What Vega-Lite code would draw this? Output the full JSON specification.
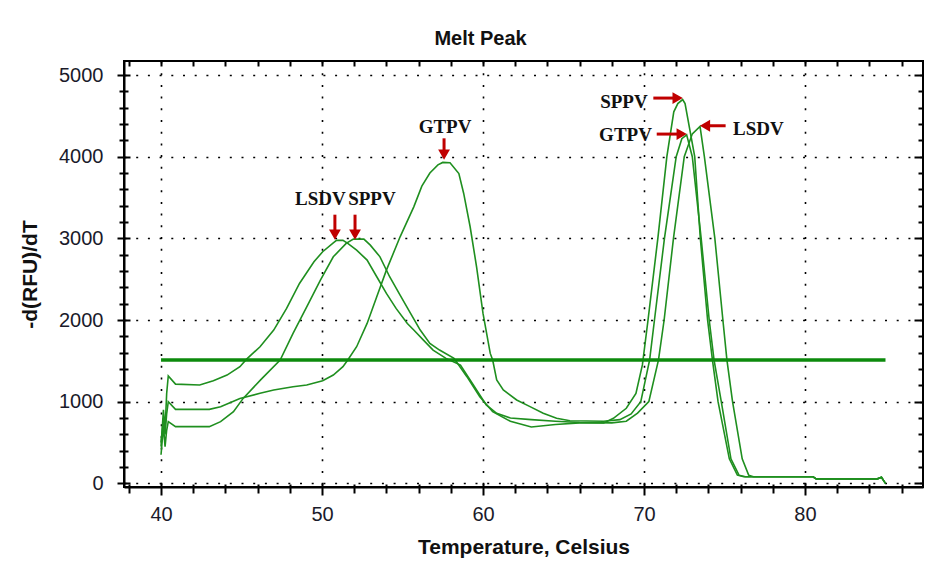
{
  "$schema": "https://vega.github.io/schema/vega-lite/v6.json",
  "width": 799,
  "height": 426,
  "autosize": "none",
  "padding": {"left": 124, "top": 61, "right": 18, "bottom": 83},
  "background": "white",
  "title": {"text": "Melt Peak", "font": "Liberation Sans", "fontSize": 20, "fontWeight": "bold", "color": "#111", "dx": -43, "offset": 11},
  "config": {
    "view": {"stroke": "black", "strokeWidth": 2},
    "axis": {"labelFont": "Liberation Sans", "labelFontSize": 20, "labelColor": "#1a1a2a", "titleFont": "Liberation Sans", "titleFontWeight": "bold", "titleFontSize": 21, "titleColor": "#111", "tickColor": "black", "tickWidth": 2, "domainColor": "black", "domainWidth": 2, "gridColor": "black", "gridDash": [2, 9.7], "gridWidth": 1.6, "labelOverlap": false}
  },
  "datasets": {
    "curves": [
      {"s": "LSDV", "t": 40.0, "v": 450}, {"s": "LSDV", "t": 40.15, "v": 900}, {"s": "LSDV", "t": 40.25, "v": 650}, {"s": "LSDV", "t": 40.35, "v": 1100}, {"s": "LSDV", "t": 40.45, "v": 1315}, {"s": "LSDV", "t": 40.9, "v": 1215}, {"s": "LSDV", "t": 42.4, "v": 1204}, {"s": "LSDV", "t": 43.25, "v": 1257}, {"s": "LSDV", "t": 44.1, "v": 1326}, {"s": "LSDV", "t": 44.9, "v": 1428}, {"s": "LSDV", "t": 45.3, "v": 1518}, {"s": "LSDV", "t": 46.15, "v": 1673}, {"s": "LSDV", "t": 47.0, "v": 1877}, {"s": "LSDV", "t": 47.8, "v": 2142}, {"s": "LSDV", "t": 48.6, "v": 2448}, {"s": "LSDV", "t": 49.5, "v": 2713}, {"s": "LSDV", "t": 50.04, "v": 2836}, {"s": "LSDV", "t": 50.7, "v": 2946}, {"s": "LSDV", "t": 50.9, "v": 2975}, {"s": "LSDV", "t": 51.3, "v": 2975}, {"s": "LSDV", "t": 51.6, "v": 2938}, {"s": "LSDV", "t": 52.15, "v": 2856}, {"s": "LSDV", "t": 52.8, "v": 2734}, {"s": "LSDV", "t": 53.4, "v": 2530}, {"s": "LSDV", "t": 54.0, "v": 2326}, {"s": "LSDV", "t": 54.6, "v": 2142}, {"s": "LSDV", "t": 55.3, "v": 1958}, {"s": "LSDV", "t": 55.7, "v": 1877}, {"s": "LSDV", "t": 56.3, "v": 1754}, {"s": "LSDV", "t": 56.9, "v": 1632}, {"s": "LSDV", "t": 57.7, "v": 1530}, {"s": "LSDV", "t": 58.6, "v": 1448}, {"s": "LSDV", "t": 59.4, "v": 1204}, {"s": "LSDV", "t": 60.2, "v": 960}, {"s": "LSDV", "t": 60.85, "v": 858}, {"s": "LSDV", "t": 61.7, "v": 800}, {"s": "LSDV", "t": 63.0, "v": 780}, {"s": "LSDV", "t": 64.5, "v": 760}, {"s": "LSDV", "t": 66.0, "v": 745}, {"s": "LSDV", "t": 68.0, "v": 740}, {"s": "LSDV", "t": 68.9, "v": 760}, {"s": "LSDV", "t": 69.6, "v": 860}, {"s": "LSDV", "t": 70.3, "v": 1000}, {"s": "LSDV", "t": 70.9, "v": 1511}, {"s": "LSDV", "t": 71.25, "v": 2000}, {"s": "LSDV", "t": 71.83, "v": 3000}, {"s": "LSDV", "t": 72.5, "v": 4000}, {"s": "LSDV", "t": 73.0, "v": 4280}, {"s": "LSDV", "t": 73.48, "v": 4370}, {"s": "LSDV", "t": 73.75, "v": 4000}, {"s": "LSDV", "t": 74.4, "v": 3000}, {"s": "LSDV", "t": 74.9, "v": 2000}, {"s": "LSDV", "t": 75.15, "v": 1511}, {"s": "LSDV", "t": 75.5, "v": 1000}, {"s": "LSDV", "t": 76.1, "v": 300}, {"s": "LSDV", "t": 76.5, "v": 100}, {"s": "LSDV", "t": 76.8, "v": 80}, {"s": "LSDV", "t": 80.5, "v": 80}, {"s": "LSDV", "t": 80.7, "v": 55}, {"s": "LSDV", "t": 84.5, "v": 55}, {"s": "LSDV", "t": 84.75, "v": 75}, {"s": "LSDV", "t": 85.0, "v": 0},
      {"s": "SPPV", "t": 40.0, "v": 350}, {"s": "SPPV", "t": 40.15, "v": 700}, {"s": "SPPV", "t": 40.25, "v": 450}, {"s": "SPPV", "t": 40.35, "v": 650}, {"s": "SPPV", "t": 40.45, "v": 755}, {"s": "SPPV", "t": 40.9, "v": 694}, {"s": "SPPV", "t": 43.0, "v": 694}, {"s": "SPPV", "t": 43.7, "v": 755}, {"s": "SPPV", "t": 44.5, "v": 877}, {"s": "SPPV", "t": 45.1, "v": 1040}, {"s": "SPPV", "t": 46.2, "v": 1270}, {"s": "SPPV", "t": 47.4, "v": 1510}, {"s": "SPPV", "t": 48.2, "v": 1836}, {"s": "SPPV", "t": 49.05, "v": 2162}, {"s": "SPPV", "t": 49.9, "v": 2489}, {"s": "SPPV", "t": 50.7, "v": 2774}, {"s": "SPPV", "t": 51.5, "v": 2938}, {"s": "SPPV", "t": 51.95, "v": 2990}, {"s": "SPPV", "t": 52.6, "v": 2990}, {"s": "SPPV", "t": 53.0, "v": 2917}, {"s": "SPPV", "t": 53.6, "v": 2774}, {"s": "SPPV", "t": 54.2, "v": 2530}, {"s": "SPPV", "t": 54.85, "v": 2305}, {"s": "SPPV", "t": 55.5, "v": 2081}, {"s": "SPPV", "t": 56.1, "v": 1877}, {"s": "SPPV", "t": 56.7, "v": 1714}, {"s": "SPPV", "t": 57.3, "v": 1632}, {"s": "SPPV", "t": 58.2, "v": 1530}, {"s": "SPPV", "t": 59.0, "v": 1306}, {"s": "SPPV", "t": 59.8, "v": 1061}, {"s": "SPPV", "t": 60.6, "v": 877}, {"s": "SPPV", "t": 61.7, "v": 760}, {"s": "SPPV", "t": 63.0, "v": 690}, {"s": "SPPV", "t": 64.5, "v": 720}, {"s": "SPPV", "t": 66.0, "v": 740}, {"s": "SPPV", "t": 67.5, "v": 740}, {"s": "SPPV", "t": 68.1, "v": 796}, {"s": "SPPV", "t": 68.9, "v": 919}, {"s": "SPPV", "t": 69.5, "v": 1100}, {"s": "SPPV", "t": 69.9, "v": 1450}, {"s": "SPPV", "t": 70.25, "v": 2000}, {"s": "SPPV", "t": 70.86, "v": 3000}, {"s": "SPPV", "t": 71.42, "v": 4000}, {"s": "SPPV", "t": 71.85, "v": 4550}, {"s": "SPPV", "t": 72.1, "v": 4650}, {"s": "SPPV", "t": 72.4, "v": 4700}, {"s": "SPPV", "t": 72.55, "v": 4650}, {"s": "SPPV", "t": 73.15, "v": 4000}, {"s": "SPPV", "t": 73.5, "v": 3000}, {"s": "SPPV", "t": 73.95, "v": 2000}, {"s": "SPPV", "t": 74.25, "v": 1511}, {"s": "SPPV", "t": 74.6, "v": 1000}, {"s": "SPPV", "t": 75.3, "v": 300}, {"s": "SPPV", "t": 75.8, "v": 100}, {"s": "SPPV", "t": 76.2, "v": 80}, {"s": "SPPV", "t": 80.5, "v": 80}, {"s": "SPPV", "t": 80.7, "v": 55}, {"s": "SPPV", "t": 84.5, "v": 55}, {"s": "SPPV", "t": 84.75, "v": 75}, {"s": "SPPV", "t": 85.0, "v": 0},
      {"s": "GTPV", "t": 40.0, "v": 500}, {"s": "GTPV", "t": 40.15, "v": 800}, {"s": "GTPV", "t": 40.25, "v": 600}, {"s": "GTPV", "t": 40.35, "v": 850}, {"s": "GTPV", "t": 40.45, "v": 1000}, {"s": "GTPV", "t": 40.9, "v": 906}, {"s": "GTPV", "t": 43.0, "v": 906}, {"s": "GTPV", "t": 43.7, "v": 938}, {"s": "GTPV", "t": 44.9, "v": 1040}, {"s": "GTPV", "t": 46.15, "v": 1102}, {"s": "GTPV", "t": 47.0, "v": 1142}, {"s": "GTPV", "t": 48.2, "v": 1183}, {"s": "GTPV", "t": 49.05, "v": 1204}, {"s": "GTPV", "t": 50.04, "v": 1257}, {"s": "GTPV", "t": 50.7, "v": 1326}, {"s": "GTPV", "t": 51.3, "v": 1428}, {"s": "GTPV", "t": 51.6, "v": 1510}, {"s": "GTPV", "t": 52.15, "v": 1673}, {"s": "GTPV", "t": 52.8, "v": 1958}, {"s": "GTPV", "t": 53.4, "v": 2285}, {"s": "GTPV", "t": 54.0, "v": 2611}, {"s": "GTPV", "t": 54.85, "v": 3019}, {"s": "GTPV", "t": 55.7, "v": 3386}, {"s": "GTPV", "t": 56.2, "v": 3640}, {"s": "GTPV", "t": 56.7, "v": 3800}, {"s": "GTPV", "t": 57.2, "v": 3900}, {"s": "GTPV", "t": 57.5, "v": 3930}, {"s": "GTPV", "t": 57.95, "v": 3925}, {"s": "GTPV", "t": 58.5, "v": 3794}, {"s": "GTPV", "t": 58.8, "v": 3550}, {"s": "GTPV", "t": 59.2, "v": 3142}, {"s": "GTPV", "t": 59.6, "v": 2652}, {"s": "GTPV", "t": 60.0, "v": 2081}, {"s": "GTPV", "t": 60.45, "v": 1591}, {"s": "GTPV", "t": 60.6, "v": 1510}, {"s": "GTPV", "t": 60.85, "v": 1266}, {"s": "GTPV", "t": 61.26, "v": 1143}, {"s": "GTPV", "t": 62.09, "v": 1021}, {"s": "GTPV", "t": 62.92, "v": 939}, {"s": "GTPV", "t": 63.74, "v": 858}, {"s": "GTPV", "t": 64.57, "v": 796}, {"s": "GTPV", "t": 65.4, "v": 767}, {"s": "GTPV", "t": 67.5, "v": 760}, {"s": "GTPV", "t": 68.5, "v": 780}, {"s": "GTPV", "t": 69.2, "v": 850}, {"s": "GTPV", "t": 69.8, "v": 1000}, {"s": "GTPV", "t": 70.35, "v": 1511}, {"s": "GTPV", "t": 70.65, "v": 2000}, {"s": "GTPV", "t": 71.27, "v": 3000}, {"s": "GTPV", "t": 72.0, "v": 4000}, {"s": "GTPV", "t": 72.35, "v": 4220}, {"s": "GTPV", "t": 72.65, "v": 4268}, {"s": "GTPV", "t": 73.0, "v": 4000}, {"s": "GTPV", "t": 73.55, "v": 3000}, {"s": "GTPV", "t": 74.05, "v": 2000}, {"s": "GTPV", "t": 74.35, "v": 1511}, {"s": "GTPV", "t": 74.8, "v": 1000}, {"s": "GTPV", "t": 75.4, "v": 300}, {"s": "GTPV", "t": 75.9, "v": 100}, {"s": "GTPV", "t": 76.3, "v": 80}, {"s": "GTPV", "t": 80.5, "v": 80}, {"s": "GTPV", "t": 80.7, "v": 55}, {"s": "GTPV", "t": 84.5, "v": 55}, {"s": "GTPV", "t": 84.75, "v": 75}, {"s": "GTPV", "t": 85.0, "v": 0}
    ],
    "threshold": [{"t0": 40, "t1": 85, "v": 1510}],
    "labels": [
      {"label": "LSDV", "t": 49.9, "v": 3488},
      {"label": "SPPV", "t": 53.1, "v": 3488},
      {"label": "GTPV", "t": 57.64, "v": 4366},
      {"label": "SPPV", "t": 68.75, "v": 4672},
      {"label": "GTPV", "t": 68.85, "v": 4264},
      {"label": "LSDV", "t": 77.1, "v": 4345}
    ],
    "arrows": [
      {"dir": "down", "t": 50.8, "v": 3290, "t2": 50.8, "v2": 3045},
      {"dir": "down", "t": 52.05, "v": 3290, "t2": 52.05, "v2": 3045},
      {"dir": "down", "t": 57.58, "v": 4225, "t2": 57.58, "v2": 4025},
      {"dir": "right", "t": 70.58, "v": 4718, "t2": 72.09, "v2": 4718},
      {"dir": "right", "t": 70.79, "v": 4277, "t2": 72.34, "v2": 4277},
      {"dir": "left", "t": 75.07, "v": 4379, "t2": 73.79, "v2": 4379}
    ]
  },
  "resolve": {"axis": {"x": "independent", "y": "independent"}},
  "layer": [
    {
      "data": {"name": "curves"},
      "mark": {"type": "line", "color": "#1f8f1f", "strokeWidth": 1.6, "clip": true},
      "encoding": {
        "x": {"field": "t", "type": "quantitative", "scale": {"domain": [37.7, 87.33], "nice": false, "zero": false},
          "axis": {"orient": "bottom", "title": "Temperature, Celsius", "titlePadding": 12,
            "values": [38, 40, 42, 44, 46, 48, 50, 52, 54, 56, 58, 60, 62, 64, 66, 68, 70, 72, 74, 76, 78, 80, 82, 84, 86],
            "labelExpr": "datum.value % 10 === 0 ? datum.label : ''", "labelPadding": 9,
            "tickSize": {"condition": {"test": "datum.value % 10 === 0", "value": 8}, "value": 6},
            "grid": true, "gridOpacity": {"condition": {"test": "datum.value % 10 === 0", "value": 1}, "value": 0}}},
        "y": {"field": "v", "type": "quantitative", "scale": {"domain": [-45, 5172], "nice": false, "zero": false},
          "axis": {"orient": "left", "title": "-d(RFU)/dT", "titlePadding": 18, "format": "d",
            "values": [0, 200, 400, 600, 800, 1000, 1200, 1400, 1600, 1800, 2000, 2200, 2400, 2600, 2800, 3000, 3200, 3400, 3600, 3800, 4000, 4200, 4400, 4600, 4800, 5000],
            "labelExpr": "datum.value % 1000 === 0 ? datum.label : ''", "labelPadding": 14,
            "tickSize": {"condition": {"test": "datum.value % 1000 === 0", "value": 7}, "value": 5},
            "grid": true, "gridOpacity": {"condition": {"test": "datum.value % 1000 === 0", "value": 1}, "value": 0}}},
        "detail": {"field": "s", "type": "nominal"}
      }
    },
    {
      "data": {"name": "threshold"},
      "mark": {"type": "rule", "color": "#0c8a0c", "strokeWidth": 3.5},
      "encoding": {
        "x": {"field": "t0", "type": "quantitative", "axis": null},
        "x2": {"field": "t1"},
        "y": {"field": "v", "type": "quantitative", "axis": null}
      }
    },
    {
      "data": {"name": "arrows"},
      "mark": {"type": "rule", "color": "#c00000", "strokeWidth": 3},
      "encoding": {
        "x": {"field": "t", "type": "quantitative", "axis": null},
        "x2": {"field": "t2"},
        "y": {"field": "v", "type": "quantitative", "axis": null},
        "y2": {"field": "v2"}
      }
    },
    {
      "data": {"name": "arrows"},
      "mark": {"type": "point", "filled": true, "color": "#c00000", "opacity": 1, "size": 140},
      "encoding": {
        "x": {"field": "t2", "type": "quantitative", "axis": null},
        "y": {"field": "v2", "type": "quantitative", "axis": null},
        "shape": {"field": "dir", "type": "nominal", "scale": {"domain": ["down", "right", "left"], "range": ["triangle-down", "triangle-right", "triangle-left"]}, "legend": null}
      }
    },
    {
      "data": {"name": "labels"},
      "mark": {"type": "text", "font": "Liberation Serif", "fontSize": 19, "fontWeight": "bold", "color": "#111", "align": "center", "baseline": "middle"},
      "encoding": {
        "x": {"field": "t", "type": "quantitative", "axis": null},
        "y": {"field": "v", "type": "quantitative", "axis": null},
        "text": {"field": "label"}
      }
    },
    {
      "data": {"name": "threshold"},
      "mark": {"type": "point", "opacity": 0},
      "encoding": {
        "x": {"field": "t0", "type": "quantitative",
          "axis": {"orient": "top", "title": null, "labels": false, "domain": false, "grid": false,
            "values": [38, 40, 42, 44, 46, 48, 50, 52, 54, 56, 58, 60, 62, 64, 66, 68, 70, 72, 74, 76, 78, 80, 82, 84, 86],
            "tickSize": -5}},
        "y": {"field": "v", "type": "quantitative",
          "axis": {"orient": "right", "title": null, "labels": false, "domain": false, "grid": false,
            "values": [0, 200, 400, 600, 800, 1000, 1200, 1400, 1600, 1800, 2000, 2200, 2400, 2600, 2800, 3000, 3200, 3400, 3600, 3800, 4000, 4200, 4400, 4600, 4800, 5000],
            "tickSize": {"condition": {"test": "datum.value % 1000 === 0", "value": -9}, "value": -5}}}
      }
    },
    {
      "data": {"name": "threshold"},
      "mark": {"type": "point", "opacity": 0},
      "encoding": {
        "x": {"field": "t1", "type": "quantitative",
          "axis": {"orient": "bottom", "title": null, "labels": false, "domain": false, "grid": false,
            "values": [38, 40, 42, 44, 46, 48, 50, 52, 54, 56, 58, 60, 62, 64, 66, 68, 70, 72, 74, 76, 78, 80, 82, 84, 86],
            "tickSize": {"condition": {"test": "datum.value % 10 === 0", "value": -4}, "value": -3}}},
        "y": {"field": "v", "type": "quantitative",
          "axis": {"orient": "left", "title": null, "labels": false, "domain": false, "grid": false,
            "values": [0, 200, 400, 600, 800, 1000, 1200, 1400, 1600, 1800, 2000, 2200, 2400, 2600, 2800, 3000, 3200, 3400, 3600, 3800, 4000, 4200, 4400, 4600, 4800, 5000],
            "tickSize": {"condition": {"test": "datum.value % 1000 === 0", "value": -6}, "value": -4}}}
      }
    }
  ]
}
